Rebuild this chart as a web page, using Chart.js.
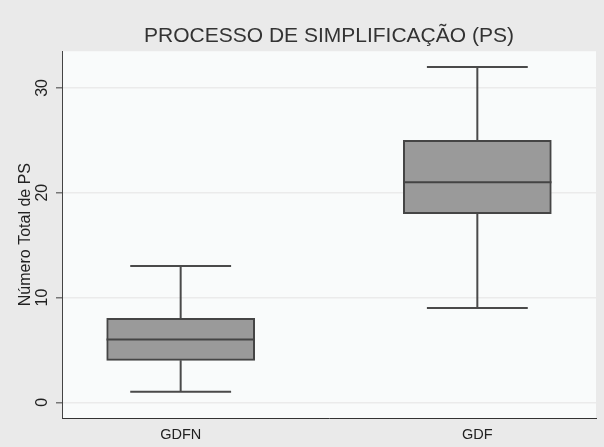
<!DOCTYPE html>
<html>
<head>
<meta charset="utf-8">
<script src="https://cdn.jsdelivr.net/npm/chart.js@4"></script>
<style>
  html, body { margin: 0; padding: 0; background: #eaeaea; }
  #wrap { width: 604px; height: 447px; }
</style>
</head>
<body>
<div id="wrap"><canvas id="box_chart"></canvas></div>
<script>
// box plot values
const categories = ['GDFN', 'GDF'];
const positions = [1, 2];
const mins = [1, 9];
const q1s = [4, 18];
const medians = [6, 21];
const q3s = [8, 25];
const maxs = [13, 32];
const y_ticks = [0, 10, 20, 30];

const BOX_HALF = 0.25;
const CAP_HALF = 0.17;
const FONT = "'Liberation Sans', Arial, sans-serif";

var whisker_points = [];
var median_points = [];
var box_points = [];
for (var i = 0; i < categories.length; i++) {
    var x = positions[i];
    // lower whisker + cap
    whisker_points.push({x: x, y: q1s[i]}, {x: x, y: mins[i]}, {x: x, y: null});
    whisker_points.push({x: x - CAP_HALF, y: mins[i]}, {x: x + CAP_HALF, y: mins[i]}, {x: x, y: null});
    // upper whisker + cap
    whisker_points.push({x: x, y: q3s[i]}, {x: x, y: maxs[i]}, {x: x, y: null});
    whisker_points.push({x: x - CAP_HALF, y: maxs[i]}, {x: x + CAP_HALF, y: maxs[i]}, {x: x, y: null});
    median_points.push({x: x - BOX_HALF, y: medians[i]}, {x: x + BOX_HALF, y: medians[i]}, {x: x, y: null});
    box_points.push({x: x, y: [q1s[i], q3s[i]]});
}

// light plot background + rotated y tick labels
const plot_bg = {
    id: 'plot_bg',
    beforeDraw(chart) {
        var a = chart.chartArea;
        var ctx = chart.ctx;
        ctx.save();
        ctx.fillStyle = '#f9fbfb';
        ctx.fillRect(a.left, a.top, a.right - a.left, a.bottom - a.top);
        ctx.restore();
    },
    afterDraw(chart) {
        var ctx = chart.ctx;
        var y = chart.scales.y;
        ctx.save();
        ctx.fillStyle = '#222';
        ctx.font = '16px ' + FONT;
        ctx.textAlign = 'center';
        ctx.textBaseline = 'middle';
        y_ticks.forEach(function (v) {
            ctx.save();
            ctx.translate(43, y.getPixelForValue(v));
            ctx.rotate(-Math.PI / 2);
            ctx.fillText(String(v), 0, 0);
            ctx.restore();
        });
        ctx.restore();
    }
};

new Chart(document.getElementById('box_chart'), {
    type: 'bar',
    data: {
        datasets: [{
            type: 'line',
            data: median_points,
            borderColor: '#444',
            borderWidth: 2,
            pointRadius: 0,
            spanGaps: false,
            order: 0
        }, {
            type: 'bar',
            data: box_points,
            backgroundColor: '#9a9a9a',
            borderColor: '#454545',
            borderWidth: 2,
            borderSkipped: false,
            barThickness: 148,
            order: 1
        }, {
            type: 'line',
            data: whisker_points,
            borderColor: '#4a4a4a',
            borderWidth: 2,
            pointRadius: 0,
            spanGaps: false,
            order: 2
        }]
    },
    options: {
        responsive: true,
        maintainAspectRatio: false,
        animation: false,
        layout: { padding: { left: 0, right: 8, top: 0, bottom: 0 } },
        plugins: {
            legend: { display: false },
            tooltip: { enabled: false },
            title: {
                display: true,
                fullSize: false,
                text: 'PROCESSO DE SIMPLIFICAÇÃO (PS)',
                color: '#333',
                font: { family: FONT, size: 21, weight: 'normal' },
                padding: { top: 24, bottom: 2 }
            }
        },
        scales: {
            x: {
                type: 'linear',
                min: 0.6,
                max: 2.4,
                offset: false,
                afterBuildTicks: function (axis) {
                    axis.ticks = positions.map(function (p) { return {value: p}; });
                },
                afterFit: function (axis) { axis.height = 29; },
                ticks: {
                    color: '#222',
                    font: { family: FONT, size: 14.5 },
                    padding: 8,
                    maxRotation: 0,
                    callback: function (v) {
                        var k = positions.indexOf(v);
                        return k >= 0 ? categories[k] : '';
                    }
                },
                grid: { display: false, drawTicks: false },
                border: { display: true, color: '#333', width: 1 }
            },
            y: {
                min: -1.5,
                max: 33.5,
                afterBuildTicks: function (axis) {
                    axis.ticks = y_ticks.map(function (v) { return {value: v}; });
                },
                afterFit: function (axis) { axis.width = 62; },
                ticks: { display: false },
                grid: {
                    color: '#ebebeb',
                    lineWidth: 1.5,
                    drawTicks: true,
                    tickLength: 6,
                    tickColor: '#777'
                },
                border: { display: true, color: '#444', width: 1 },
                title: {
                    display: true,
                    text: 'Número Total de PS',
                    color: '#222',
                    font: { family: FONT, size: 16 },
                    padding: { top: 16, bottom: 0 }
                }
            }
        }
    },
    plugins: [plot_bg]
});
</script>
</body>
</html>
